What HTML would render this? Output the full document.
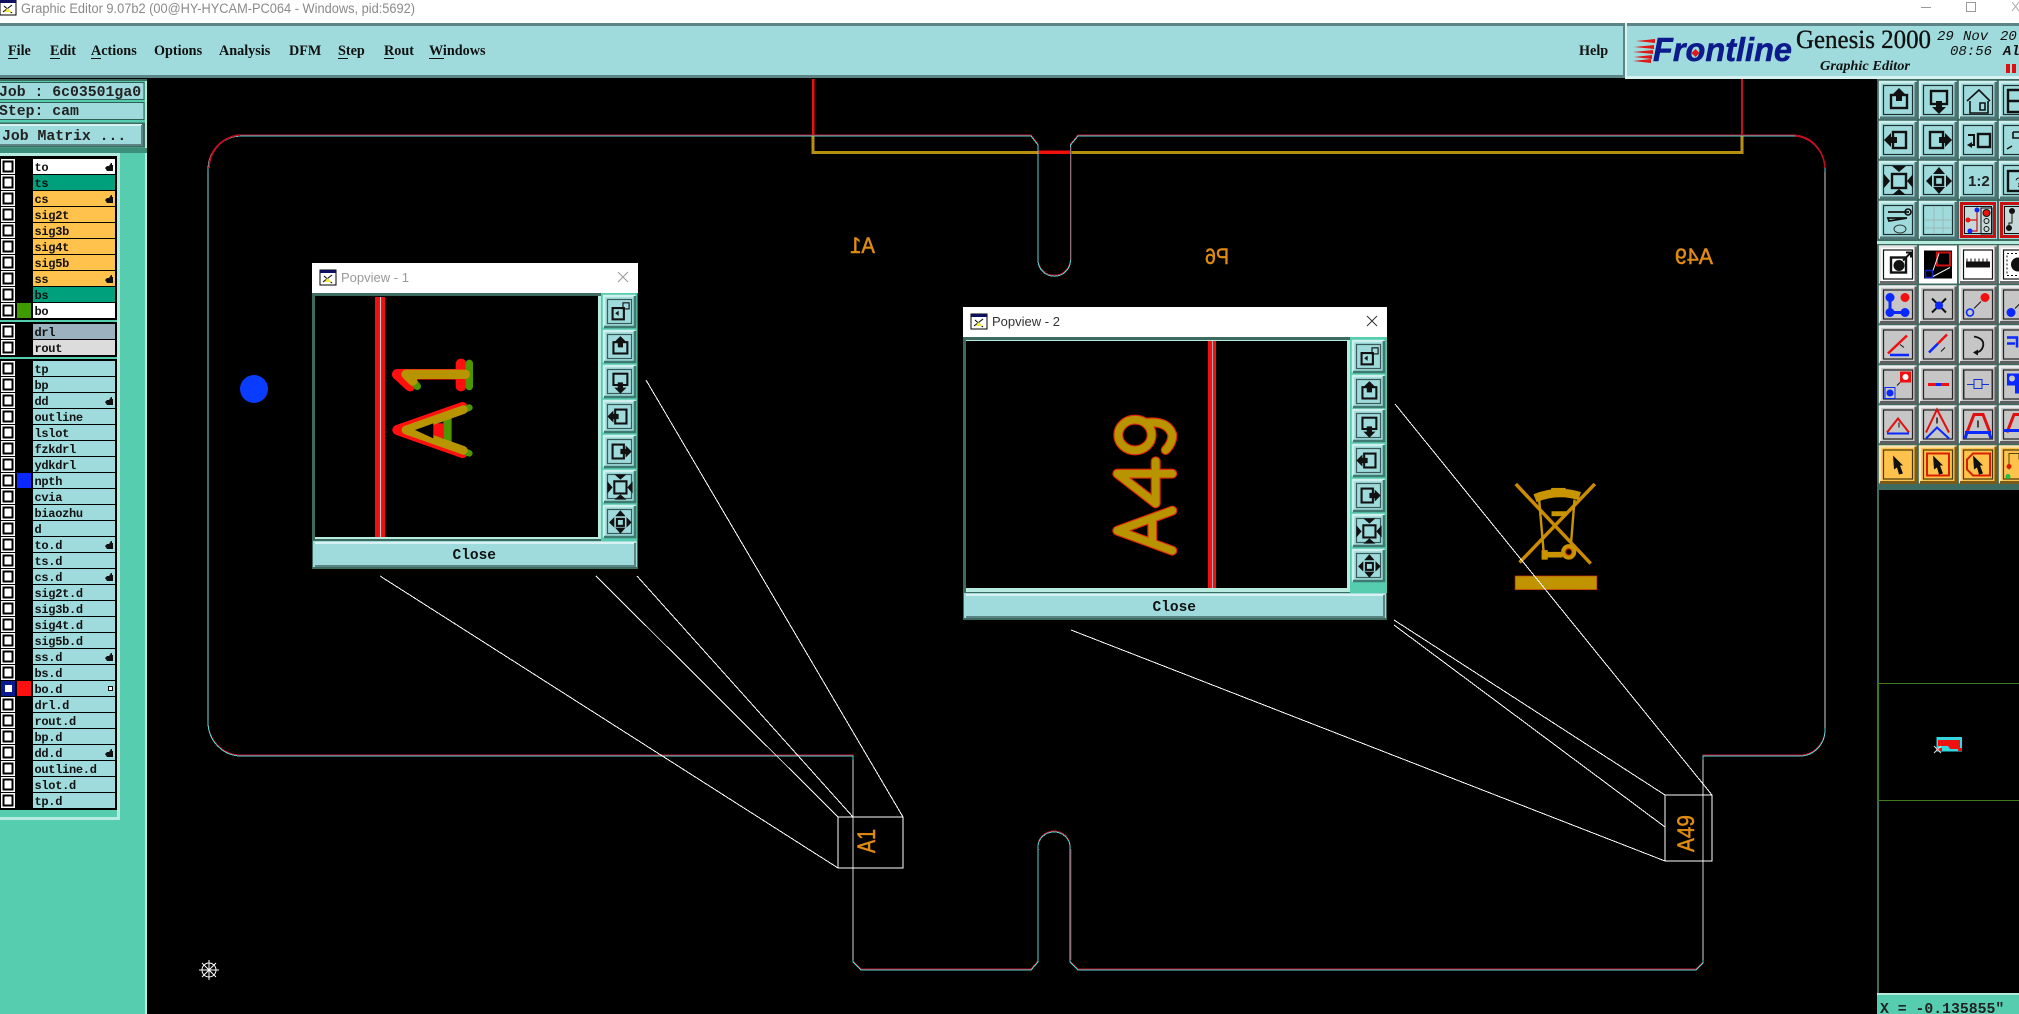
<!DOCTYPE html>
<html><head><meta charset="utf-8"><title>Graphic Editor</title>
<style>
html,body{margin:0;padding:0;background:#000;width:2019px;height:1014px;overflow:hidden}
svg{display:block}
.m{font-family:"Liberation Mono",monospace}
.l{font-family:"Liberation Mono",monospace;font-size:12px;font-weight:bold;letter-spacing:-.3px;fill:#111}
.s{font-family:"Liberation Serif",serif}
.a{font-family:"Liberation Sans",sans-serif}
.mn{font-family:"Liberation Serif",serif;font-weight:bold;font-size:14.2px;fill:#111}
.o{fill:#e08c10;stroke:#e08c10;stroke-width:.5;font-family:"Liberation Sans",sans-serif}
.k{fill:none;stroke:#111;stroke-width:2.4}
</style></head><body>
<svg width="2019" height="1014" viewBox="0 0 2019 1014" xmlns="http://www.w3.org/2000/svg">
<defs>
<g id="ck"><rect x="1" y="0" width="14" height="15" fill="#fff"/><rect x="3.5" y="2.5" width="9" height="10" fill="#fff" stroke="#000" stroke-width="2"/></g>
<path id="hd" d="M0 6l2-2 2 0 2-3 1 0 0 2 1 0 0 6-6 0z" fill="#111"/>
<g id="bt"><rect width="38" height="38" fill="#9fdbdc"/><path d="M1 37V1H37" fill="none" stroke="#cfeeee" stroke-width="2.4"/><path d="M1 37H37V1" fill="none" stroke="#4f7475" stroke-width="3"/><rect x="4.5" y="4.5" width="29" height="29" fill="none" stroke="#1d2f30" stroke-width="1.2"/></g>
<g id="bg"><rect width="38" height="38" fill="#c6c6c6"/><path d="M1 37V1H37" fill="none" stroke="#f0f0f0" stroke-width="2.4"/><path d="M1 37H37V1" fill="none" stroke="#5e5e5e" stroke-width="3"/><rect x="4.5" y="4.5" width="29" height="29" fill="none" stroke="#222" stroke-width="1.2"/></g>
<g id="bw"><rect width="38" height="38" fill="#fff"/><path d="M1 37V1H37" fill="none" stroke="#e4e4e4" stroke-width="2.4"/><path d="M1 37H37V1" fill="none" stroke="#6a6a6a" stroke-width="3"/><rect x="4.5" y="4.5" width="29" height="29" fill="none" stroke="#111" stroke-width="1.2"/></g>
<g id="by"><rect width="38" height="38" fill="#ffc34d"/><path d="M1 37V1H37" fill="none" stroke="#ffe6b0" stroke-width="2.4"/><path d="M1 37H37V1" fill="none" stroke="#7a5c18" stroke-width="3"/><rect x="4.5" y="4.5" width="29" height="29" fill="none" stroke="#4a3808" stroke-width="1.2"/></g>
<g id="br"><rect width="38" height="38" fill="#9fdbdc"/><rect x="2.5" y="2.5" width="33" height="33" fill="none" stroke="#c81010" stroke-width="3"/><rect x="5.5" y="5.5" width="27" height="27" fill="#c6d8d8" stroke="#111"/></g>
<g id="iu"><rect x="12" y="14" width="16" height="13" class="k"/><path d="M20 7l7 7h-4v6h-6v-6h-4z" fill="#111"/></g>
<g id="id"><rect x="12" y="10" width="16" height="13" class="k"/><path d="M20 33l-7-7h4v-6h6v6h4z" fill="#111"/></g>
<g id="il"><rect x="14" y="11" width="13" height="16" class="k"/><path d="M5 19l7-7v4h6v6h-6v4z" fill="#111"/></g>
<g id="ir"><rect x="11" y="11" width="13" height="16" class="k"/><path d="M33 19l-7 7v-4h-6v-6h6v-4z" fill="#111"/></g>
<g id="ie"><rect x="13" y="13" width="14" height="14" class="k"/><path d="M13 5h14l-7 6zM13 34h14l-7-6zM5 13v14l6-7zM34 13v14l-6-7z" fill="#111"/></g>
<g id="ic"><rect x="16" y="16" width="8" height="8" class="k"/><path d="M20 6l6 7h-12zM20 33l6-7h-12zM7 20l6-6v12zM33 20l-6-6v12z" fill="#111"/></g>
<g id="iw"><rect x="11" y="15" width="13" height="13" class="k"/><rect x="23" y="9" width="7" height="7" fill="none" stroke="#111" stroke-width="1.3"/><path d="M14 21l4-3v6z" fill="#111"/></g>
<path id="ar" d="M0 0L10 10 7 10 10 18 6 19 4 12 1 14z" fill="#111"/>
<g id="pb"><rect width="33" height="33" fill="#9fdbdc"/><path d="M1 32V1H32" fill="none" stroke="#d0f0ee" stroke-width="2.4"/><path d="M1 32H32V1" fill="none" stroke="#3f7a70" stroke-width="2.6"/><rect x="4.500" y="4.500" width="24" height="24" fill="none" stroke="#3a5c58" stroke-width="1.2"/></g>
<g id="wi"><rect width="16" height="15" fill="#fff" stroke="#000"/><rect width="16" height="3" fill="#101060"/><path d="M3 12l9-7M4 6l8 7" stroke="#000" fill="none"/><path d="M7 8l5 4h-7z" fill="#f2ea40"/></g>
</defs>

<!-- base -->
<rect width="2019" height="1014" fill="#000"/>
<!-- title bar -->
<rect width="2019" height="23" fill="#fff"/>
<use href="#wi" x="0" y="0"/>
<text x="21" y="13" class="a" font-size="13.5" fill="#8a8a8a" textLength="394" lengthAdjust="spacingAndGlyphs">Graphic Editor 9.07b2 (00@HY-HYCAM-PC064 - Windows, pid:5692)</text>
<path d="M1921 7.5h10" stroke="#999" fill="none"/><rect x="1966.5" y="2.5" width="9" height="9" fill="none" stroke="#999"/><path d="M2012 2l7 9M2019 2l-7 9" stroke="#aaa" fill="none"/>
<rect y="23" width="2019" height="3" fill="#5b8486"/>
<!-- menu -->
<rect y="26" width="1626" height="50" fill="#9fdbdc"/>
<rect y="75" width="1626" height="3" fill="#5b8486"/>
<rect x="1623" y="26" width="2" height="52" fill="#5b8486"/>
<rect x="1625" y="23" width="2" height="56" fill="#d8f2f2"/>
<rect x="1627" y="26" width="392" height="50" fill="#9fdbdc"/>
<rect x="1627" y="76" width="392" height="3" fill="#d8f2f2"/>
<text x="8" y="55" class="mn">File</text><text x="50" y="55" class="mn">Edit</text><text x="91" y="55" class="mn">Actions</text><text x="154" y="55" class="mn">Options</text><text x="219" y="55" class="mn">Analysis</text><text x="289" y="55" class="mn">DFM</text><text x="338" y="55" class="mn">Step</text><text x="384" y="55" class="mn">Rout</text><text x="429" y="55" class="mn">Windows</text><text x="1579" y="55" class="mn">Help</text>
<path d="M8 58.5h10M50 58.5h10M91 58.5h10M338 58.5h10M384 58.5h10M429 58.5h15" stroke="#111"/>
<!-- logo -->
<path d="M1636 41l19-2v4zM1634 47l20-2v4zM1633 52l20-2v4zM1634 57l18-2v4zM1633 61l18-2v4z" fill="#e01818"/>
<text x="1653" y="61" class="a" font-size="33" font-weight="bold" font-style="italic" fill="#0c1a8c" stroke="#0c1a8c" stroke-width=".5" textLength="139" lengthAdjust="spacingAndGlyphs">Frontline</text>
<path d="M1695.5 49l4 4-4 4-4-4z" fill="#e01818"/>
<text x="1796" y="48" class="s" font-size="26" fill="#111" stroke="#111" stroke-width=".35" textLength="135" lengthAdjust="spacingAndGlyphs">Genesis 2000</text>
<text x="1820" y="70" class="s" font-size="14" font-weight="bold" font-style="italic" fill="#111" textLength="90" lengthAdjust="spacingAndGlyphs">Graphic Editor</text>
<text x="1937" y="40" class="m" font-size="14" font-style="italic" fill="#111">29</text><text x="1963" y="40" class="m" font-size="14" font-style="italic" fill="#111">Nov</text><text x="2000" y="40" class="m" font-size="14" font-style="italic" fill="#111">20</text><text x="1950" y="55" class="m" font-size="14" font-style="italic" fill="#111">08:56</text><text x="2003" y="55" class="m" font-size="14" font-style="italic" font-weight="bold" fill="#111">Al</text>
<rect x="2006" y="64" width="4" height="9" fill="#e01010"/><rect x="2012" y="64" width="4" height="9" fill="#e01010"/>

<!-- left panel -->
<rect x="0" y="79" width="147" height="935" fill="#57cdb0"/>
<rect x="145" y="79" width="2" height="935" fill="#b6ebe0"/>
<rect x="0" y="79" width="147" height="2" fill="#3d6b60"/>
<rect x="-1" y="82.5" width="145" height="17" fill="#9fdbdc" stroke="#2f5f55"/>
<rect x="-1" y="102.5" width="145" height="17" fill="#9fdbdc" stroke="#2f5f55"/>
<text x="-1" y="96" class="m" font-size="14.8" font-weight="bold" fill="#222" xml:space="preserve">Job : 6c03501ga0</text>
<text x="-1" y="115" class="m" font-size="14.8" font-weight="bold" fill="#222" xml:space="preserve">Step: cam</text>
<rect x="-1" y="122.5" width="146" height="25" fill="#3d6b60"/>
<rect x="0" y="125" width="142" height="20" fill="#9fdbdc"/>
<path d="M0 125H142" stroke="#d8f2f2" stroke-width="2"/><path d="M0 145H142V125" stroke="#5b8486" stroke-width="2" fill="none"/>
<text x="2" y="140" class="m" font-size="14.8" font-weight="bold" fill="#222">Job Matrix ...</text>
<rect x="0" y="148" width="147" height="5" fill="#3d8f7c"/>
<rect x="0" y="153" width="120" height="3" fill="#b6ebe0"/>
<rect x="117" y="153" width="3" height="667" fill="#b6ebe0"/>
<rect x="0" y="817" width="120" height="3" fill="#b6ebe0"/>

<rect x="0" y="156" width="117" height="164" fill="#000"/>
<rect x="0" y="322" width="117" height="35" fill="#000"/>
<rect x="0" y="359" width="117" height="451" fill="#000"/>

<!-- rows -->
<use href="#ck" y="159"/><rect x="33" y="159" width="82" height="15" fill="#fff"/><text x="34.5" y="171" class="l">to</text><use href="#hd" x="105" y="162"/>
<use href="#ck" y="175"/><rect x="33" y="175" width="82" height="15" fill="#00a07c"/><text x="34.5" y="187" class="l">ts</text>
<use href="#ck" y="191"/><rect x="33" y="191" width="82" height="15" fill="#ffc34d"/><text x="34.5" y="203" class="l">cs</text><use href="#hd" x="105" y="194"/>
<use href="#ck" y="207"/><rect x="33" y="207" width="82" height="15" fill="#ffc34d"/><text x="34.5" y="219" class="l">sig2t</text>
<use href="#ck" y="223"/><rect x="33" y="223" width="82" height="15" fill="#ffc34d"/><text x="34.5" y="235" class="l">sig3b</text>
<use href="#ck" y="239"/><rect x="33" y="239" width="82" height="15" fill="#ffc34d"/><text x="34.5" y="251" class="l">sig4t</text>
<use href="#ck" y="255"/><rect x="33" y="255" width="82" height="15" fill="#ffc34d"/><text x="34.5" y="267" class="l">sig5b</text>
<use href="#ck" y="271"/><rect x="33" y="271" width="82" height="15" fill="#ffc34d"/><text x="34.5" y="283" class="l">ss</text><use href="#hd" x="105" y="274"/>
<use href="#ck" y="287"/><rect x="33" y="287" width="82" height="15" fill="#00a07c"/><text x="34.5" y="299" class="l">bs</text>
<use href="#ck" y="303"/><rect x="17" y="303" width="14" height="15" fill="#3f9a00"/><rect x="33" y="303" width="82" height="15" fill="#fff"/><text x="34.5" y="315" class="l">bo</text>
<use href="#ck" y="324"/><rect x="33" y="324" width="82" height="15" fill="#9cb3bf"/><text x="34.5" y="336" class="l">drl</text>
<use href="#ck" y="340"/><rect x="33" y="340" width="82" height="15" fill="#dcdcdc"/><text x="34.5" y="352" class="l">rout</text>

<g fill="#9fdbdc">
<use href="#ck" y="361"/><rect x="33" y="361" width="82" height="15"/><text x="34.5" y="373" class="l">tp</text>
<use href="#ck" y="377"/><rect x="33" y="377" width="82" height="15"/><text x="34.5" y="389" class="l">bp</text>
<use href="#ck" y="393"/><rect x="33" y="393" width="82" height="15"/><text x="34.5" y="405" class="l">dd</text><use href="#hd" x="105" y="396"/>
<use href="#ck" y="409"/><rect x="33" y="409" width="82" height="15"/><text x="34.5" y="421" class="l">outline</text>
<use href="#ck" y="425"/><rect x="33" y="425" width="82" height="15"/><text x="34.5" y="437" class="l">lslot</text>
<use href="#ck" y="441"/><rect x="33" y="441" width="82" height="15"/><text x="34.5" y="453" class="l">fzkdrl</text>
<use href="#ck" y="457"/><rect x="33" y="457" width="82" height="15"/><text x="34.5" y="469" class="l">ydkdrl</text>
<use href="#ck" y="473"/><rect x="17" y="473" width="14" height="15" fill="#0a28ff"/><rect x="33" y="473" width="82" height="15"/><text x="34.5" y="485" class="l">npth</text>
<use href="#ck" y="489"/><rect x="33" y="489" width="82" height="15"/><text x="34.5" y="501" class="l">cvia</text>
<use href="#ck" y="505"/><rect x="33" y="505" width="82" height="15"/><text x="34.5" y="517" class="l">biaozhu</text>
<use href="#ck" y="521"/><rect x="33" y="521" width="82" height="15"/><text x="34.5" y="533" class="l">d</text>
<use href="#ck" y="537"/><rect x="33" y="537" width="82" height="15"/><text x="34.5" y="549" class="l">to.d</text><use href="#hd" x="105" y="540"/>
<use href="#ck" y="553"/><rect x="33" y="553" width="82" height="15"/><text x="34.5" y="565" class="l">ts.d</text>
<use href="#ck" y="569"/><rect x="33" y="569" width="82" height="15"/><text x="34.5" y="581" class="l">cs.d</text><use href="#hd" x="105" y="572"/>
<use href="#ck" y="585"/><rect x="33" y="585" width="82" height="15"/><text x="34.5" y="597" class="l">sig2t.d</text>
<use href="#ck" y="601"/><rect x="33" y="601" width="82" height="15"/><text x="34.5" y="613" class="l">sig3b.d</text>
<use href="#ck" y="617"/><rect x="33" y="617" width="82" height="15"/><text x="34.5" y="629" class="l">sig4t.d</text>
<use href="#ck" y="633"/><rect x="33" y="633" width="82" height="15"/><text x="34.5" y="645" class="l">sig5b.d</text>
<use href="#ck" y="649"/><rect x="33" y="649" width="82" height="15"/><text x="34.5" y="661" class="l">ss.d</text><use href="#hd" x="105" y="652"/>
<use href="#ck" y="665"/><rect x="33" y="665" width="82" height="15"/><text x="34.5" y="677" class="l">bs.d</text>
<rect x="1" y="681" width="14" height="15" fill="#0a1a90"/><rect x="5" y="685" width="7" height="7" fill="#fff"/><rect x="17" y="681" width="14" height="15" fill="#ff1010"/><rect x="33" y="681" width="82" height="15"/><text x="34.5" y="693" class="l">bo.d</text><rect x="108.5" y="686.5" width="4" height="4" fill="#fff" stroke="#111"/>
<use href="#ck" y="697"/><rect x="33" y="697" width="82" height="15"/><text x="34.5" y="709" class="l">drl.d</text>
<use href="#ck" y="713"/><rect x="33" y="713" width="82" height="15"/><text x="34.5" y="725" class="l">rout.d</text>
<use href="#ck" y="729"/><rect x="33" y="729" width="82" height="15"/><text x="34.5" y="741" class="l">bp.d</text>
<use href="#ck" y="745"/><rect x="33" y="745" width="82" height="15"/><text x="34.5" y="757" class="l">dd.d</text><use href="#hd" x="105" y="748"/>
<use href="#ck" y="761"/><rect x="33" y="761" width="82" height="15"/><text x="34.5" y="773" class="l">outline.d</text>
<use href="#ck" y="777"/><rect x="33" y="777" width="82" height="15"/><text x="34.5" y="789" class="l">slot.d</text>
<use href="#ck" y="793"/><rect x="33" y="793" width="82" height="15"/><text x="34.5" y="805" class="l">tp.d</text>
</g>

<!-- board: red/yellow top -->
<rect x="812" y="79" width="2.500" height="57" fill="#ee1010"/>
<rect x="1741" y="79" width="2" height="57" fill="#c81018"/>
<path d="M813 136V152.500H1742V136" stroke="#b89010" stroke-width="3" fill="none" shape-rendering="crispEdges"/>
<rect x="1038" y="150.500" width="33" height="3.500" fill="#f01010"/>
<!-- outline -->
<g fill="none" shape-rendering="crispEdges">
<path transform="translate(0,-1)" stroke="#c01028" stroke-width="1" d="M208 170A34 34 0 0 1 242 136H1031L1038 145V260A16 16 0 0 0 1070.5 260V145L1078 136H1793A32 34 0 0 1 1825 170V730A25 26 0 0 1 1800 756H1703V963L1696 970H1078L1070 962V847A16 15 0 0 0 1038 847V962L1031 970H861L853 962V756H241A33 34 0 0 1 208 722Z"/>
<path stroke="#58d4d4" stroke-width="1" d="M208 170A34 34 0 0 1 242 136H1031L1038 145V260A16 16 0 0 0 1070.5 260V145L1078 136H1793A32 34 0 0 1 1825 170V730A25 26 0 0 1 1800 756H1703V963L1696 970H1078L1070 962V847A16 15 0 0 0 1038 847V962L1031 970H861L853 962V756H241A33 34 0 0 1 208 722Z"/>
<path stroke="#d4d4d4" stroke-width="1.200" d="M1825 172V728M853 760V960M1703 760V960"/>
<path stroke="#7fdcdc" stroke-width="1.200" d="M208 172V720"/>
<path stroke="#c01028" stroke-width="1" d="M1071 147V260M1071 849V960M1039 849V850"/>
<path stroke="#c01020" stroke-width="1.600" d="M209 168A34 34 0 0 1 240 135M1795 136A32 34 0 0 1 1825 168"/>
</g>
<!-- mirrored labels -->
<text class="o" transform="translate(875,253) scale(-1,1)" font-size="22" textLength="25" lengthAdjust="spacingAndGlyphs">A1</text>
<text class="o" transform="translate(1229,264) scale(-1,1)" font-size="22" textLength="24" lengthAdjust="spacingAndGlyphs">P6</text>
<text class="o" transform="translate(1713,264) scale(-1,1)" font-size="22" textLength="38" lengthAdjust="spacingAndGlyphs">A49</text>
<!-- blue pad and target -->
<circle cx="254" cy="389" r="14" fill="#0a3cff"/>
<g stroke="#fff" fill="none" transform="translate(209,970)"><circle r="7"/><path d="M-10 0H10M0-10V10M-7-7L7 7M-7 7L7-7"/></g>
<!-- recycle icon -->
<g transform="translate(1480,460) scale(.3438,.3534)" fill="none" stroke="#c89400" stroke-width="9">
<path d="M104 68L322 293M334 68L115 290" stroke="#cc8a00" stroke-width="10"/>
<path d="M160 108Q225 82 290 102" stroke-width="24"/>
<rect x="210" y="82" width="36" height="10" stroke-width="6"/>
<path d="M172 112L186 270M275 112L265 232" stroke-width="7"/>
<path d="M208 152H252" stroke-width="14"/>
<path d="M188 268H240" stroke-width="16"/><path d="M188 255V282" stroke-width="18"/>
<circle cx="258" cy="260" r="15" stroke-width="14"/><circle cx="258" cy="260" r="9" stroke="#d02010" stroke-width="3"/>
<rect x="102" y="328" width="238" height="39" fill="#c09400" stroke="#c02808" stroke-width="2"/>
</g>
<!-- connector lines -->
<g stroke="#fff" stroke-width="1" fill="none" shape-rendering="crispEdges">
<path d="M380 576L838 868M596 576L838 817M637 576L853 817M646 380L903 817"/>
<rect x="838" y="817" width="65" height="51"/>
<path d="M1071 630L1665 861M1394 625L1665 827M1394 620L1665 795M1395 404L1712 795"/>
<rect x="1665" y="795" width="47" height="66"/>
</g>
<text class="o" transform="translate(875,853) rotate(-90)" font-size="25" textLength="24" lengthAdjust="spacingAndGlyphs">A1</text>
<text class="o" transform="translate(1694,852) rotate(-90)" font-size="24" textLength="37" lengthAdjust="spacingAndGlyphs">A49</text>

<!-- Popview 1 -->
<g>
<rect x="312" y="263" width="326" height="306" fill="#3d6b60"/>
<rect x="312" y="263" width="326" height="30" fill="#fff"/>
<use href="#wi" x="320" y="270"/>
<text x="341" y="282" class="a" font-size="13" fill="#999">Popview - 1</text>
<path d="M618 272l10 10M628 272l-10 10" stroke="#999" fill="none"/>
<rect x="315" y="296" width="286" height="243" fill="#b6ebe0"/>
<rect x="315" y="296" width="283" height="241" fill="#000"/>
<rect x="601" y="293" width="36" height="248" fill="#57cdb0"/>
<rect x="375" y="297" width="10" height="240" fill="#f01010"/><rect x="380" y="297" width="1" height="240" fill="#ccc"/>
<g transform="translate(300,255) scale(.3333)" fill="none" stroke-linecap="round">
<g stroke="#ff1010" stroke-width="32"><path d="M292 358H480M292 358L330 393M483 327V393"/><path d="M292 525L488 456M292 525L488 594" stroke-width="30"/></g>
<path d="M398 505H430V550H398z" fill="#ff1010"/>
<g stroke="#4e9600" stroke-width="22"><path d="M508 325V395M352 394L340 380"/><path d="M508 458L470 472M508 595L470 580" stroke-width="20"/></g>
<path d="M430 490H455V562H430z" fill="#4e9600"/>
<g stroke="#b89400" stroke-width="28"><path d="M318 358H496M318 358L338 378"/><path d="M318 525L490 464M318 525L490 586" stroke-width="26"/></g>
<path d="M345 525L400 505V550z" fill="#000"/>
</g>
<rect x="313" y="541" width="324" height="26" fill="#9fdbdc"/>
<path d="M315 543H635" stroke="#d8f2f2" stroke-width="2"/><path d="M315 566H635V543" stroke="#5b8486" stroke-width="2" fill="none"/>
<text x="452.5" y="559" class="m" font-size="14.5" font-weight="bold" fill="#111">Close</text>
<use href="#pb" x="603" y="295"/><use href="#iw" transform="translate(603,295) scale(.87)"/>
<use href="#pb" x="603" y="330"/><use href="#iu" transform="translate(603,330) scale(.87)"/>
<use href="#pb" x="603" y="365"/><use href="#id" transform="translate(603,365) scale(.87)"/>
<use href="#pb" x="603" y="400"/><use href="#il" transform="translate(603,400) scale(.87)"/>
<use href="#pb" x="603" y="435"/><use href="#ir" transform="translate(603,435) scale(.87)"/>
<use href="#pb" x="603" y="470"/><use href="#ie" transform="translate(603,470) scale(.87)"/>
<use href="#pb" x="603" y="505"/><use href="#ic" transform="translate(603,505) scale(.87)"/>
</g>

<!-- Popview 2 -->
<g>
<rect x="963" y="307" width="424" height="313" fill="#3d6b60"/>
<rect x="963" y="307" width="424" height="30" fill="#fff"/>
<use href="#wi" x="971" y="314"/>
<text x="992" y="326" class="a" font-size="13" fill="#333">Popview - 2</text>
<path d="M1367 316l10 10M1377 316l-10 10" stroke="#333" fill="none"/>
<rect x="966" y="340" width="384" height="252" fill="#b6ebe0"/>
<rect x="966" y="341" width="381" height="247" fill="#000"/>
<rect x="1350" y="337" width="37" height="256" fill="#57cdb0"/>
<rect x="1208" y="341" width="8" height="247" fill="#f01010"/><rect x="1212" y="341" width="1" height="247" fill="#aaa"/>
<g transform="translate(955,300) scale(.3333)" fill="none" stroke-linecap="round" stroke-linejoin="round">
<g stroke="#e02808" stroke-width="30"><path d="M652 632L487 692L652 752M592 655V728M652 521H487L602 610V484"/><ellipse cx="540" cy="405" rx="50" ry="46"/><path d="M575 368Q640 362 652 405Q652 430 632 450"/></g>
<g stroke="#b89400" stroke-width="23"><path d="M652 632L487 692L652 752M592 655V728M652 521H487L602 610V484"/><ellipse cx="540" cy="405" rx="50" ry="46"/><path d="M575 368Q640 362 652 405Q652 430 632 450"/></g>
</g>
<rect x="964" y="593" width="422" height="25" fill="#9fdbdc"/>
<path d="M966 595H1384" stroke="#d8f2f2" stroke-width="2"/><path d="M966 617H1384V595" stroke="#5b8486" stroke-width="2" fill="none"/>
<text x="1152.5" y="611" class="m" font-size="14.5" font-weight="bold" fill="#111">Close</text>
<use href="#pb" x="1352" y="340"/><use href="#iw" transform="translate(1352,340) scale(.87)"/>
<use href="#pb" x="1352" y="375"/><use href="#iu" transform="translate(1352,375) scale(.87)"/>
<use href="#pb" x="1352" y="409"/><use href="#id" transform="translate(1352,409) scale(.87)"/>
<use href="#pb" x="1352" y="444"/><use href="#il" transform="translate(1352,444) scale(.87)"/>
<use href="#pb" x="1352" y="479"/><use href="#ir" transform="translate(1352,479) scale(.87)"/>
<use href="#pb" x="1352" y="514"/><use href="#ie" transform="translate(1352,514) scale(.87)"/>
<use href="#pb" x="1352" y="549"/><use href="#ic" transform="translate(1352,549) scale(.87)"/>
</g>

<!-- right toolbar -->
<rect x="1877" y="79" width="142" height="410" fill="#3d6b60"/>
<rect x="1877" y="241" width="142" height="3" fill="#b6ebe0"/>
<!-- row 1 -->
<g transform="translate(1879,81)"><use href="#bt"/><use href="#iu"/></g>
<g transform="translate(1919,81)"><use href="#bt"/><use href="#id"/></g>
<g transform="translate(1959,81)"><use href="#bt"/><path d="M8 20L20 9l11 11M11 20V32H29V20M21 22h5v7h-5z" fill="none" stroke="#111" stroke-width="1.6"/></g>
<g transform="translate(1999,81)"><use href="#bt"/><path d="M9 9H29V31H9zM9 20H29" class="k" stroke-width="1.6"/></g>
<!-- row 2 -->
<g transform="translate(1879,121)"><use href="#bt"/><use href="#il"/></g>
<g transform="translate(1919,121)"><use href="#bt"/><use href="#ir"/></g>
<g transform="translate(1959,121)"><use href="#bt"/><rect x="19" y="13" width="12" height="13" class="k"/><path d="M9 14h6v10h-5" fill="none" stroke="#111" stroke-width="2"/><path d="M8 24l5-3v6z" fill="#111"/></g>
<g transform="translate(1999,121)"><use href="#bt"/><path d="M14 11H32M14 11v6H32M8 28l5-3" fill="none" stroke="#111" stroke-width="1.6"/></g>
<!-- row 3 -->
<g transform="translate(1879,161)"><use href="#bt"/><use href="#ie"/></g>
<g transform="translate(1919,161)"><use href="#bt"/><use href="#ic"/></g>
<g transform="translate(1959,161)"><use href="#bt"/><text x="9" y="25" class="a" font-size="15" font-weight="bold" fill="#222">1:2</text></g>
<g transform="translate(1999,161)"><use href="#bt"/><rect x="9" y="10" width="20" height="20" class="k"/><text x="16" y="26" class="a" font-size="14" fill="#222">?</text></g>
<!-- row 4 -->
<g transform="translate(1879,201)"><use href="#bt"/><path d="M9 11H30M9 17H28L10 20z" fill="none" stroke="#111" stroke-width="1.8"/><circle cx="29" cy="11" r="3" fill="none" stroke="#111" stroke-width="1.6"/><ellipse cx="21" cy="28" rx="6" ry="4" fill="none" stroke="#333"/></g>
<g transform="translate(1919,201)"><use href="#bt"/><path d="M5 19H33M5 27H33M15 5V33M24 5V33" stroke="#9cb8b8" fill="none"/></g>
<g transform="translate(1959,201)"><use href="#br"/><path d="M9 19H18V10M18 19V30H11" fill="none" stroke="#d01010" stroke-width="1.2"/><circle cx="18" cy="9" r="2.5" fill="#0a28ff"/><circle cx="9" cy="19" r="2.5" fill="#f01010"/><circle cx="11" cy="30" r="2.5" fill="#0a28ff"/><rect x="22" y="7" width="11" height="26" fill="none" stroke="#111"/><circle cx="27.500" cy="12" r="3.500" fill="#f01010" stroke="#111"/><circle cx="27.500" cy="20" r="2.500" fill="none" stroke="#111"/><circle cx="27.500" cy="28" r="2.500" fill="none" stroke="#111"/></g>
<g transform="translate(1999,201)"><use href="#br"/><circle cx="13" cy="10" r="3" fill="#111"/><circle cx="10" cy="27" r="3" fill="#111"/><path d="M13 10V22H10V27" fill="none" stroke="#111"/></g>
<!-- row 5 white -->
<g transform="translate(1879,245.500)"><use href="#bw"/><rect x="12" y="12" width="15" height="15" class="k"/><circle cx="20" cy="20" r="5.500" fill="#111"/><path d="M24 15L32 7M27 7h5v5" fill="none" stroke="#111" stroke-width="2"/></g>
<g transform="translate(1919,245.500)"><rect width="38" height="38" fill="#fff"/><rect x="5" y="5" width="28" height="28" fill="#000"/><rect x="18" y="7" width="13" height="13" fill="none" stroke="#d01010" stroke-width="2"/><rect x="6.500" y="25" width="7" height="7" fill="none" stroke="#1020c0" stroke-width="1.600"/><path d="M14 25L20 8M14 31L31 22" stroke="#eee" fill="none"/></g>
<g transform="translate(1959,245.500)"><use href="#bw"/><rect x="7" y="16" width="24" height="6" fill="#111"/><path d="M8 16V13M12 16V13M16 16V13M20 16V13M24 16V13M28 16V13" stroke="#111"/></g>
<g transform="translate(1999,245.500)"><use href="#bw"/><rect x="8" y="8" width="22" height="22" fill="none" stroke="#111" stroke-dasharray="2 2"/><circle cx="19" cy="19" r="7" fill="#111"/></g>
<!-- row 6 -->
<g transform="translate(1879,285.500)"><use href="#bg"/><path d="M11 12V27H26" fill="none" stroke="#0a28ff" stroke-width="3"/><circle cx="11" cy="12" r="4.500" fill="#0a28ff"/><circle cx="11" cy="27" r="4.500" fill="#0a28ff"/><circle cx="26" cy="27" r="4.500" fill="#0a28ff"/><circle cx="26" cy="12" r="4.500" fill="#f01010"/></g>
<g transform="translate(1919,285.500)"><use href="#bg"/><path d="M13 13L27 27M27 13L13 27" stroke="#111" stroke-width="2" fill="none"/><circle cx="20" cy="20" r="4" fill="#0a28ff"/></g>
<g transform="translate(1959,285.500)"><use href="#bg"/><circle cx="26" cy="12" r="4.500" fill="#f01010"/><circle cx="11" cy="27" r="3.500" fill="none" stroke="#0a28ff" stroke-width="1.600"/><path d="M15 23L22 16" stroke="#111" fill="none"/></g>
<g transform="translate(1999,285.500)"><use href="#bg"/><circle cx="12" cy="27" r="4.500" fill="#0a28ff"/><path d="M16 23L24 15" stroke="#111" fill="none"/></g>
<!-- row 7 -->
<g transform="translate(1879,325.500)"><use href="#bg"/><path d="M9 28L28 10" stroke="#f01010" stroke-width="2.500" fill="none"/><path d="M11 29.500H30" stroke="#0a28ff" stroke-width="2.500" fill="none"/><path d="M25 22l-4-3" stroke="#111" fill="none"/></g>
<g transform="translate(1919,325.500)"><use href="#bg"/><path d="M10 27L19 18" stroke="#0a28ff" stroke-width="2.500" fill="none"/><path d="M19 18L28 9" stroke="#f01010" stroke-width="2.500" fill="none"/><path d="M22 26l4-4" stroke="#111" fill="none"/></g>
<g transform="translate(1959,325.500)"><use href="#bg"/><path d="M15 11Q26 13 24 21Q22 27 16 27" fill="none" stroke="#111" stroke-width="1.800"/><path d="M14 27l5-3v6z" fill="#111"/></g>
<g transform="translate(1999,325.500)"><use href="#bg"/><path d="M8 12H18V22M8 18H16" fill="none" stroke="#0a28ff" stroke-width="2.500"/></g>
<!-- row 8 -->
<g transform="translate(1879,365.500)"><use href="#bg"/><rect x="6" y="22" width="10" height="11" fill="none" stroke="#0a28ff"/><circle cx="11" cy="27.500" r="3.500" fill="#0a28ff"/><rect x="21" y="6" width="11" height="11" fill="#f01010"/><circle cx="26.500" cy="11.500" r="3" fill="#fff"/><path d="M18 20l3-3" stroke="#111" fill="none"/></g>
<g transform="translate(1919,365.500)"><use href="#bg"/><path d="M9 19H30" stroke="#f01010" stroke-width="3" fill="none"/><path d="M17 19H22" stroke="#0a28ff" stroke-width="3" fill="none"/></g>
<g transform="translate(1959,365.500)"><use href="#bg"/><path d="M5 5V33M33 5V33" stroke="#333" fill="none"/><rect x="15" y="14" width="8" height="9" fill="none" stroke="#1030d0"/><path d="M8 19H15M23 19H30" stroke="#1030d0" fill="none"/></g>
<g transform="translate(1999,365.500)"><use href="#bg"/><path d="M8 8H22V18H28V28H16V20H8z" fill="#0a28ff"/><circle cx="13" cy="13" r="3" fill="#c6c6c6"/></g>
<!-- row 9 -->
<g transform="translate(1879,405.500)"><use href="#bg"/><path d="M8 27L19 13L30 27" fill="none" stroke="#e01010" stroke-width="2"/><path d="M8 28H30" stroke="#0a28ff" stroke-width="2" fill="none"/><path d="M20 22V17" stroke="#111"/></g>
<g transform="translate(1919,405.500)"><use href="#bg"/><path d="M7 27L18 4L30 27" fill="none" stroke="#e01010" stroke-width="2"/><path d="M7 33L18 22L30 33" fill="none" stroke="#0a28ff" stroke-width="2"/><path d="M18 18V12" stroke="#111" stroke-width="1.400"/></g>
<g transform="translate(1959,405.500)"><use href="#bg"/><path d="M8 27L15 9H24L31 27" fill="none" stroke="#e01010" stroke-width="3"/><path d="M6 27H32M6 33L8 27M32 33L30 27" fill="none" stroke="#0a28ff" stroke-width="3"/><path d="M19 22V15" stroke="#111" stroke-width="1.400"/></g>
<g transform="translate(1999,405.500)"><use href="#bg"/><path d="M8 27L15 9H24" fill="none" stroke="#e01010" stroke-width="3"/><path d="M4 25H32" fill="none" stroke="#0a28ff" stroke-width="3"/></g>
<!-- row 10 -->
<g transform="translate(1879,445.500)"><use href="#by"/><use href="#ar" transform="translate(14,10)"/></g>
<g transform="translate(1919,445.500)"><use href="#by"/><rect x="8" y="8" width="22" height="22" fill="none" stroke="#d82000" stroke-width="2"/><use href="#ar" transform="translate(14,10)"/></g>
<g transform="translate(1959,445.500)"><use href="#by"/><path d="M14 8H31V30H14L8 24V14z" fill="none" stroke="#d82000" stroke-width="2"/><use href="#ar" transform="translate(14,10)"/></g>
<g transform="translate(1999,445.500)"><use href="#by"/><path d="M10 24V8H20V14" fill="none" stroke="#5a4510"/><circle cx="10" cy="21" r="2.500" fill="#d82000"/><circle cx="9" cy="31" r="2.500" fill="#20c040"/></g>

<!-- right lower panel -->
<rect x="1877" y="484" width="142" height="6" fill="#3d6b60"/>
<rect x="1877" y="490" width="142" height="503" fill="#000"/>
<rect x="1877" y="490" width="2" height="504" fill="#3d6b60"/>
<rect x="1878.500" y="683.500" width="145" height="117" fill="none" stroke="#3f7a20"/>
<rect x="1936.500" y="737" width="25.500" height="14.500" fill="#30d8e0"/>
<path d="M1938 740H1960V749H1950L1948 746H1938z" fill="#f01010"/><path d="M1936 751h6v-3h-6zM1958 751h4v-3h-4z" fill="#f01010"/>
<path d="M1934 746l7 7M1941 746l-7 7" stroke="#ddd" fill="none"/>
<rect x="1877" y="993" width="142" height="2" fill="#b6ebe0"/>
<rect x="1877" y="995" width="142" height="19" fill="#57cdb0"/>
<text x="1880" y="1013" class="m" font-size="14.8" font-weight="bold" fill="#222" xml:space="preserve">X = -0.135855"</text>
</svg>
</body></html>
